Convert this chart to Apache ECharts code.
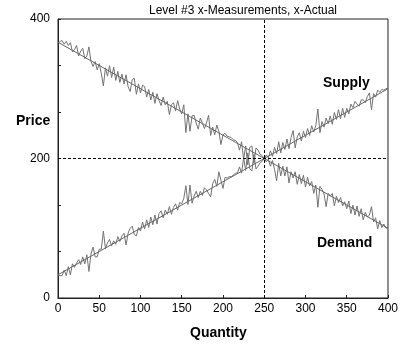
<!DOCTYPE html>
<html>
<head>
<meta charset="utf-8">
<script src="https://cdn.jsdelivr.net/npm/echarts@6/dist/echarts.min.js"></script>
<style>
  html, body { margin: 0; padding: 0; background: #fff; }
  #chart { width: 401px; height: 345px; }
</style>
</head>
<body>
<div id="chart"></div>
<script>
// quantity step of the measured series (0 .. 400)
const qtyStep = 2.5
const qtyMax = 400

// measured prices (noisy), one per quantity step
const demandMeasured = [
  365, 368, 369, 364, 368, 362, 366, 353, 356, 362,
  347, 354, 358, 343, 347, 360, 339, 332, 339, 327,
  336, 322, 304, 330, 318, 333, 316, 331, 312, 325,
  309, 321, 307, 320, 303, 296, 313, 315, 292, 307,
  294, 305, 303, 288, 299, 284, 295, 279, 293, 283,
  276, 288, 277, 282, 263, 277, 280, 268, 283, 271,
  264, 277, 237, 264, 239, 261, 262, 251, 242, 258,
  251, 243, 251, 262, 233, 245, 234, 248, 239, 220,
  234, 236, 232, 231, 230, 227, 226, 223, 212, 224,
  199, 218, 191, 216, 218, 193, 215, 212, 206, 204,
  200, 195, 199, 189, 197, 184, 168, 193, 175, 189,
  175, 188, 165, 181, 172, 181, 163, 177, 164, 176,
  159, 173, 161, 167, 150, 162, 130, 160, 156, 149,
  131, 150, 146, 150, 132, 146, 137, 144, 132, 138,
  128, 139, 121, 133, 119, 132, 117, 128, 112, 123,
  116, 119, 131, 109, 115, 99, 111, 101, 106, 100,
  101
]
const supplyMeasured = [
  33, 32, 32, 40, 32, 45, 33, 49, 44, 50,
  55, 48, 59, 49, 62, 38, 63, 73, 59, 59,
  70, 70, 96, 71, 79, 84, 75, 82, 77, 88,
  81, 89, 93, 76, 93, 100, 103, 91, 89, 101,
  96, 109, 99, 112, 101, 116, 105, 119, 106, 121,
  125, 115, 126, 120, 131, 120, 130, 135, 126, 137,
  135, 143, 161, 134, 162, 136, 146, 153, 144, 153,
  147, 158, 155, 150, 145, 164, 170, 160, 181, 169,
  157, 173, 172, 174, 174, 176, 179, 179, 188, 179,
  201, 183, 208, 185, 182, 206, 185, 189, 194, 196,
  200, 205, 201, 211, 203, 216, 207, 224, 208, 223,
  213, 228, 214, 230, 240, 215, 231, 237, 225, 239,
  230, 243, 233, 247, 238, 247, 271, 237, 253, 245,
  258, 250, 261, 249, 266, 256, 270, 257, 272, 259,
  272, 264, 278, 273, 282, 278, 275, 284, 284, 280,
  289, 294, 270, 293, 288, 298, 295, 299, 298, 300,
  301
]

// actual (straight) curves, given by their end points
const endQty = [0, 400]
const demandActual = [366.7, 100]
const supplyActual = [33.3, 300]

// equilibrium guides
const eqQty = 250
const eqPrice = 200

const yLabels = [0, 200, 400]

const FONT = 'Liberation Sans, Arial, sans-serif'
const chart = echarts.init(document.getElementById('chart'))

const pairs = (ys) => ys.map((y, i) => [i * qtyStep, y])
const ends = (ys) => ys.map((y, i) => [endQty[i], y])

const option = {
  animation: false,
  title: {
    text: 'Level #3 x-Measurements, x-Actual',
    left: 238,
    top: 0,
    textAlign: 'center',
    textStyle: { fontFamily: FONT, fontSize: 12, fontWeight: 'normal', color: '#000' }
  },
  grid: {
    left: 58, right: 11, top: 19, bottom: 47,
    show: true, borderColor: '#222', borderWidth: 1, backgroundColor: 'transparent'
  },
  xAxis: {
    type: 'value', min: 0, max: qtyMax, interval: 50,
    axisLine: { show: true, lineStyle: { color: '#222' } },
    axisTick: { show: true, inside: true, length: 3, lineStyle: { color: '#222' } },
    axisLabel: { fontFamily: FONT, fontSize: 12, color: '#000', margin: 5 },
    splitLine: { show: false }
  },
  yAxis: {
    type: 'value', min: 0, max: 400, interval: 400 / 6,
    axisLine: { show: true, lineStyle: { color: '#222' } },
    axisTick: { show: true, inside: true, length: 3, lineStyle: { color: '#222' } },
    axisLabel: {
      fontFamily: FONT, fontSize: 12, color: '#000', margin: 8,
      formatter: (v) => {
        const hit = yLabels.find(l => Math.abs(l - v) < 0.01)
        return hit === undefined ? '' : String(hit)
      }
    },
    splitLine: { show: false }
  },
  graphic: [
    { type: 'text', left: 16, top: 114, style: { text: 'Price', font: 'bold 14px ' + FONT, fill: '#000' } },
    { type: 'text', left: 190, top: 326, style: { text: 'Quantity', font: 'bold 14px ' + FONT, fill: '#000' } },
    { type: 'text', left: 323, top: 76, style: { text: 'Supply', font: 'bold 14px ' + FONT, fill: '#000' } },
    { type: 'text', left: 317, top: 236, style: { text: 'Demand', font: 'bold 14px ' + FONT, fill: '#000' } }
  ],
  series: [
    {
      name: 'Demand measured', type: 'line', data: pairs(demandMeasured),
      showSymbol: false, lineStyle: { color: '#737373', width: 1 }, z: 2
    },
    {
      name: 'Supply measured', type: 'line', data: pairs(supplyMeasured),
      showSymbol: false, lineStyle: { color: '#737373', width: 1 }, z: 2
    },
    {
      name: 'Demand actual', type: 'line', data: ends(demandActual),
      showSymbol: false, lineStyle: { color: '#666', width: 1 }, z: 3
    },
    {
      name: 'Supply actual', type: 'line', data: ends(supplyActual),
      showSymbol: false, lineStyle: { color: '#666', width: 1 }, z: 3,
      markLine: {
        silent: true, symbol: 'none', label: { show: false },
        lineStyle: { color: '#000', type: [3, 2], width: 1 },
        data: [{ xAxis: eqQty }, { yAxis: eqPrice }]
      }
    }
  ]
}

chart.setOption(option)
</script>
</body>
</html>
